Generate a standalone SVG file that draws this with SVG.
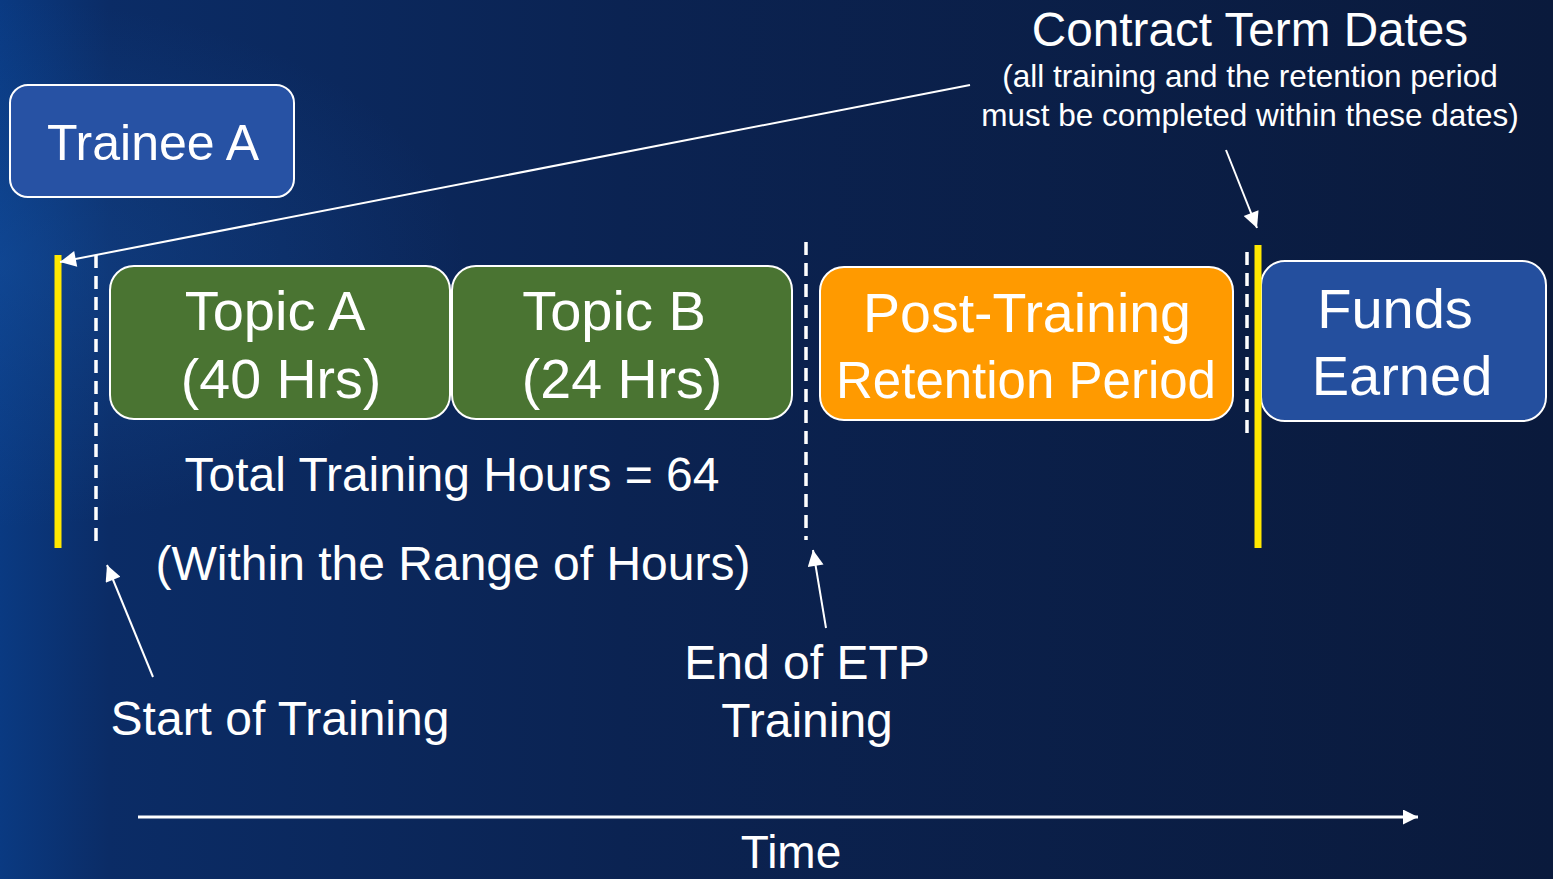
<svg xmlns="http://www.w3.org/2000/svg" width="1553" height="879" viewBox="0 0 1553 879">
<defs>
<linearGradient id="bg" x1="0" y1="0" x2="1" y2="0">
<stop offset="0" stop-color="#0a3a82"/>
<stop offset="0.07" stop-color="#0b2c66"/>
<stop offset="0.4" stop-color="#0b2352"/>
<stop offset="1" stop-color="#0a1a3c"/>
</linearGradient>
<radialGradient id="glow" cx="0.0" cy="0.3" r="0.3">
<stop offset="0" stop-color="#1a5cb0" stop-opacity="0.35"/>
<stop offset="1" stop-color="#1a5cb0" stop-opacity="0"/>
</radialGradient>
<marker id="ah" viewBox="0 0 10 10" refX="10" refY="5" markerWidth="9" markerHeight="8" markerUnits="strokeWidth" orient="auto">
<path d="M0,0 L10,5 L0,10 z" fill="#ffffff"/>
</marker>
<marker id="ahs" viewBox="0 0 10 10" refX="10" refY="5" markerWidth="5" markerHeight="5" markerUnits="strokeWidth" orient="auto">
<path d="M0,0 L10,5 L0,10 z" fill="#ffffff"/>
</marker>
</defs>
<style>
text{font-family:"Liberation Sans",Arial,sans-serif;fill:#ffffff;text-anchor:middle}
.box{stroke:#ffffff;stroke-width:2}
.blue{fill:#2752a4}
.green{fill:#4a7432}
.orange{fill:#ff9a00}
.yellow{stroke:#ffe800;stroke-width:7}
.dash{stroke:#ffffff;stroke-width:3.5;stroke-dasharray:13 8;fill:none}
.arr{stroke:#ffffff;stroke-width:2;fill:none;marker-end:url(#ah)}
</style>
<rect width="1553" height="879" fill="url(#bg)"/>
<rect width="1553" height="879" fill="url(#glow)"/>

<g id="trainee-a">
<rect class="box blue" x="10" y="85" width="284" height="112" rx="18"/>
<text x="153" y="160" font-size="50">Trainee A</text>
</g>

<g id="topic-a">
<rect class="box green" x="110" y="266" width="340" height="153" rx="24"/>
<text x="275" y="330" font-size="56">Topic A</text>
<text x="281" y="398" font-size="55.5">(40 Hrs)</text>
</g>

<g id="topic-b">
<rect class="box green" x="452" y="266" width="340" height="153" rx="24"/>
<text x="614" y="330" font-size="56">Topic B</text>
<text x="622" y="398" font-size="55.5">(24 Hrs)</text>
</g>

<g id="post-training">
<rect class="box orange" x="820" y="267" width="413" height="153" rx="24"/>
<text x="1027" y="332" font-size="55.5">Post-Training</text>
<text x="1026" y="398" font-size="51">Retention Period</text>
</g>

<g id="funds-earned">
<rect class="box" fill="#244f9e" x="1261" y="261" width="285" height="160" rx="24"/>
<text x="1395" y="328" font-size="56">Funds</text>
<text x="1402" y="395" font-size="56">Earned</text>
</g>

<g id="markers">
<line class="yellow" x1="58" y1="255" x2="58" y2="548"/>
<line class="dash" x1="96" y1="255" x2="96" y2="548"/>
<line class="dash" x1="806" y1="242" x2="806" y2="540"/>
<line class="dash" x1="1247" y1="252" x2="1247" y2="437"/>
<line class="yellow" x1="1258" y1="245" x2="1258" y2="548"/>
</g>

<g id="labels">
<text x="452" y="491" font-size="48">Total Training Hours = 64</text>
<text x="453" y="580" font-size="48">(Within the Range of Hours)</text>
<text x="280" y="735" font-size="48">Start of Training</text>
<text x="807" y="679" font-size="48">End of ETP</text>
<text x="807" y="737" font-size="48">Training</text>
<text x="791" y="868" font-size="46">Time</text>
<text x="1250" y="46" font-size="47.7">Contract Term Dates</text>
<text x="1250" y="87" font-size="31.5">(all training and the retention period</text>
<text x="1250" y="126" font-size="31.5">must be completed within these dates)</text>
</g>

<g id="connectors">
<line class="arr" x1="970" y1="85" x2="60" y2="262"/>
<line class="arr" x1="1226" y1="150" x2="1257" y2="228"/>
<line class="arr" x1="153" y1="677" x2="107" y2="565"/>
<line class="arr" x1="826" y1="628" x2="813" y2="550"/>
<line stroke="#ffffff" stroke-width="3" fill="none" marker-end="url(#ahs)" x1="138" y1="817" x2="1418" y2="817"/>
</g>
</svg>
